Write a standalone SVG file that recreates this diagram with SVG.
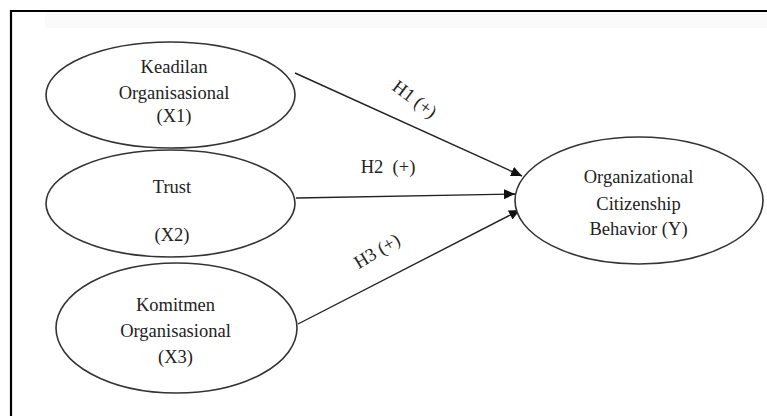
<svg xmlns="http://www.w3.org/2000/svg" width="767" height="416" viewBox="0 0 767 416">
  <style>
    .node ellipse { fill: #ffffff; stroke: #333333; stroke-width: 1.6; }
    .lbl { font-family: "Liberation Serif", "Times New Roman", serif; font-size: 18.5px; fill: #222222; text-anchor: middle; }
    .edge { stroke: #222222; stroke-width: 1.4; fill: none; marker-end: url(#arrow); }
    .frame { stroke: #000000; stroke-width: 2.2; fill: none; }
  </style>
  <defs>
    <marker id="arrow" markerUnits="userSpaceOnUse" markerWidth="12" markerHeight="10" refX="11" refY="5" orient="auto">
      <path d="M0,0 L11,5 L0,10 z" fill="#111111"/>
    </marker>
  </defs>
  <rect x="0" y="0" width="767" height="416" fill="#ffffff"/>
  <rect x="45" y="12" width="722" height="16" fill="#fafafa"/>
  <path class="frame" d="M11,416 L11,11 L767,11"/>

  <g id="connectors">
    <line class="edge" x1="295" y1="73" x2="522" y2="176"/>
    <line class="edge" x1="296" y1="198" x2="515" y2="194"/>
    <line class="edge" x1="298" y1="324" x2="520" y2="210"/>
    <text class="lbl" transform="translate(414,100) rotate(37)" x="0" y="5">H1 (+)</text>
    <text class="lbl" x="388" y="173" style="white-space:pre">H2  (+)</text>
    <text class="lbl" transform="translate(377.5,252) rotate(-31)" x="0" y="5">H3 (+)</text>
  </g>

  <g id="x1" class="node">
    <ellipse cx="170.5" cy="95" rx="124.5" ry="53"/>
    <text class="lbl" x="174" y="73">Keadilan</text>
    <text class="lbl" x="174" y="99">Organisasional</text>
    <text class="lbl" x="174" y="122">(X1)</text>
  </g>

  <g id="x2" class="node">
    <ellipse cx="170.5" cy="203.5" rx="124.5" ry="53.5"/>
    <text class="lbl" x="172" y="193">Trust</text>
    <text class="lbl" x="172" y="241">(X2)</text>
  </g>

  <g id="x3" class="node">
    <ellipse cx="176.5" cy="328" rx="120.5" ry="65"/>
    <text class="lbl" x="175.5" y="311">Komitmen</text>
    <text class="lbl" x="175.5" y="337">Organisasional</text>
    <text class="lbl" x="175.5" y="363">(X3)</text>
  </g>

  <g id="y" class="node">
    <ellipse cx="639" cy="200.5" rx="124" ry="63.5"/>
    <text class="lbl" x="638.5" y="183">Organizational</text>
    <text class="lbl" x="638.5" y="210">Citizenship</text>
    <text class="lbl" x="638.5" y="235">Behavior (Y)</text>
  </g>
</svg>
